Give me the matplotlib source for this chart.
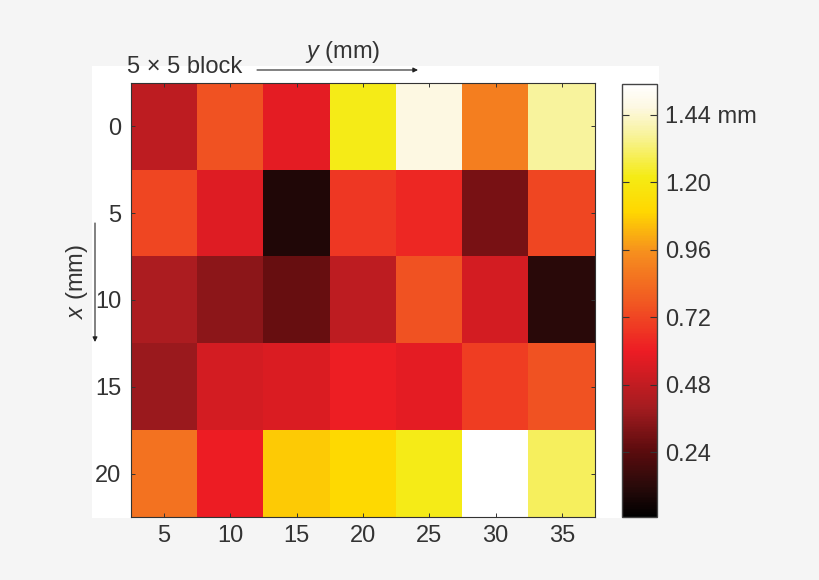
import numpy as np
import matplotlib
matplotlib.use("Agg")
import matplotlib.pyplot as plt
from matplotlib.colors import LinearSegmentedColormap
from matplotlib.patches import Rectangle, FancyArrowPatch

plt.rcParams['font.family'] = ['Liberation Sans', 'DejaVu Sans']
plt.rcParams['mathtext.fontset'] = 'custom'
plt.rcParams['mathtext.it'] = 'Liberation Sans:italic'

# data
y_ticks = [5, 10, 15, 20, 25, 30, 35]
x_ticks = [0, 5, 10, 15, 20]
row_0 = [0.47, 0.76, 0.58, 1.22, 1.47, 0.90, 1.37]
row_5 = [0.72, 0.56, 0.10, 0.68, 0.63, 0.31, 0.72]
row_10 = [0.42, 0.35, 0.27, 0.47, 0.76, 0.53, 0.12]
row_15 = [0.38, 0.53, 0.55, 0.61, 0.58, 0.70, 0.76]
row_20 = [0.86, 0.60, 1.07, 1.11, 1.22, 1.55, 1.30]
cbar_ticks = [0.24, 0.48, 0.72, 0.96, 1.20, 1.44]
cbar_labels = ['0.24', '0.48', '0.72', '0.96', '1.20', '1.44 mm']

vmin, vmax = 0.01, 1.55
W, H = 820, 580
TEXT = '#333333'
FONT = 17


def fx(px):
    return px / W


def fy(py):
    return 1 - py / H


def stop(v):
    return (v - vmin) / (vmax - vmin)


cmap = LinearSegmentedColormap.from_list('heat', [
    (0.0, '#000000'),
    (stop(0.12), '#2a0a0a'),
    (stop(0.25), '#5e0c0e'),
    (stop(0.40), '#a51c20'),
    (stop(0.60), '#ed1c24'),
    (stop(0.78), '#f15a22'),
    (stop(0.95), '#f68e1e'),
    (stop(1.10), '#ffd800'),
    (stop(1.22), '#f5eb14'),
    (stop(1.37), '#f8f39a'),
    (stop(1.47), '#fdf8e2'),
    (1.0, '#ffffff'),
])

fig = plt.figure(figsize=(8.2, 5.8), dpi=100, facecolor='#f5f5f5')
fig.add_artist(Rectangle((fx(92), fy(518)), fx(659) - fx(92), fy(66) - fy(518),
                         transform=fig.transFigure, facecolor='white', edgecolor='none', zorder=-1))

ax = fig.add_axes([fx(131), fy(517), fx(595) - fx(131), fy(83) - fy(517)])
values = np.array([row_0, row_5, row_10, row_15, row_20])
im = ax.imshow(values, cmap=cmap, vmin=vmin, vmax=vmax, aspect='auto',
               extent=[2.5, 37.5, 22.5, -2.5], interpolation='nearest')
ax.set_xticks(y_ticks)
ax.set_yticks(x_ticks)
ax.tick_params(direction='in', length=3, width=0.7, top=True, right=True,
               labelsize=FONT, labelcolor=TEXT, color='#333333')
ax.tick_params(axis='x', pad=6)
ax.tick_params(axis='y', pad=7)
for s in ax.spines.values():
    s.set_linewidth(0.8)
    s.set_color('#333333')

cax = fig.add_axes([fx(622), fy(517), fx(657) - fx(622), fy(84) - fy(517)])
cbar = fig.colorbar(im, cax=cax)
cbar.set_ticks(cbar_ticks)
cbar.set_ticklabels(cbar_labels)
cax.tick_params(direction='in', length=5, width=0.8, left=True, right=True,
                labelsize=FONT, labelcolor=TEXT, color='#333333', pad=6)
cbar.outline.set_linewidth(1.0)
cbar.outline.set_edgecolor('#444444')

fig.text(fx(127), fy(67), '5 × 5 block', fontsize=FONT, color=TEXT, va='center', ha='left')
fig.text(fx(343), fy(52), r'$\mathit{y}$ (mm)', fontsize=FONT, color=TEXT, va='center', ha='center')
fig.text(fx(77), fy(281), r'$\mathit{x}$ (mm)', fontsize=FONT, color=TEXT, va='center', ha='center',
         rotation=90)

fig.add_artist(FancyArrowPatch(
    (fx(257), fy(70)), (fx(418), fy(70)), transform=fig.transFigure,
    arrowstyle='-|>', mutation_scale=7, linewidth=0.8, color='#222222', shrinkA=0, shrinkB=0))
fig.add_artist(FancyArrowPatch(
    (fx(95), fy(223)), (fx(95), fy(342)), transform=fig.transFigure,
    arrowstyle='-|>', mutation_scale=7, linewidth=0.8, color='#222222', shrinkA=0, shrinkB=0))

fig.savefig('out.png', dpi=100, facecolor=fig.get_facecolor())
